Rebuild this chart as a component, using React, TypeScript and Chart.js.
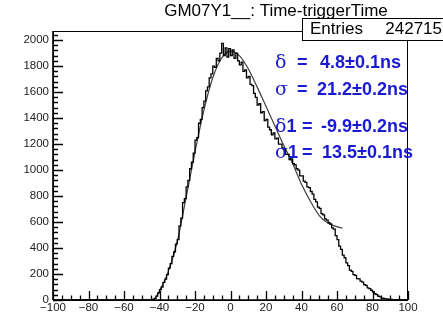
import React, { useEffect, useRef } from "react";
import { Chart, registerables } from "chart.js";

Chart.register(...registerables);

// ---- data ----
const titleText = "GM07Y1__: Time-triggerTime";
const entriesLabel = "Entries";
const entriesValue = "242715";

const xMin = -100;
const xMax = 100;
const yMax = 2070;
const binWidth = 1;
const firstBinLowEdge = -44;
// bin contents from -44 ns upward (1 ns bins)
const counts = [
  0, 4, 12, 30, 55, 80, 100, 135, 160, 195,
  245, 280, 335, 370, 430, 465, 570, 630, 750, 780,
  870, 920, 1010, 1060, 1130, 1230, 1250, 1360, 1390, 1480,
  1530, 1610, 1640, 1710, 1740, 1800, 1790, 1860, 1840, 1900,
  1975, 1880, 1940, 1870, 1935, 1880, 1925, 1860, 1900, 1840,
  1810, 1830, 1760, 1770, 1710, 1720, 1660, 1650, 1590, 1560,
  1500, 1510, 1440, 1450, 1380, 1390, 1330, 1310, 1270, 1285,
  1240, 1245, 1200, 1200, 1170, 1160, 1120, 1120, 1080, 1085,
  1050, 1040, 1010, 1000, 955, 955, 915, 905, 870, 865,
  835, 815, 775, 755, 715, 705, 665, 655, 625, 615,
  595, 585, 555, 545, 495, 465, 415, 390, 345, 325,
  285, 265, 230, 220, 195, 190, 165, 163, 145, 138,
  118, 112, 93, 88, 75, 62, 48, 42, 29, 24,
  14, 13, 9, 8, 5, 5, 3, 3, 2, 1,
];

const fitX = [-43, -40, -35, -30, -25, -20, -15, -10, -5, 0, 5, 10, 15, 20, 25, 30, 35, 40, 45, 50, 55, 60, 63];
const fitY = [0, 70, 220, 450, 790, 1140, 1460, 1710, 1860, 1915, 1880, 1780, 1640, 1490, 1340, 1190, 1050, 890, 760, 650, 590, 565, 553];

const yMajorTicks = [0, 200, 400, 600, 800, 1000, 1200, 1400, 1600, 1800, 2000];
const yMinorStep = 40;
const xMajorTicks = [-100, -80, -60, -40, -20, 0, 20, 40, 60, 80, 100];
const xMinorStep = 5;

const fitSymbols = ["δ", "σ", "δ1", "σ1"];
const fitValues = ["4.8±0.1ns", "21.2±0.2ns", "-9.9±0.2ns", "13.5±0.1ns"];

// ---- layout ----
const W = 443;
const H = 319;
const LEFT = 53;
const RIGHT = 408;
const TOP = 31;
const BOTTOM = 300;
const textLineY = [63, 90, 127, 153];
const valueX = [320, 317, 321, 322];

function buildHist() {
  const pts: { x: number; y: number }[] = [];
  for (let e = xMin; e < xMax; e += binWidth) {
    const idx = Math.round((e - firstBinLowEdge) / binWidth);
    const v = idx >= 0 && idx < counts.length ? counts[idx] : 0;
    pts.push({ x: e, y: v });
  }
  pts.push({ x: xMax, y: 0 });
  return pts;
}

const rootPlugin = {
  id: "rootDecor",
  afterDatasetsDraw(chart: any) {
    const ctx = chart.ctx as CanvasRenderingContext2D;
    const xs = chart.scales.x;
    const ys = chart.scales.y;
    const a = chart.chartArea;
    ctx.save();
    // frame
    ctx.strokeStyle = "#000";
    ctx.lineWidth = 1;
    ctx.strokeRect(a.left + 0.5, a.top + 0.5, a.right - a.left - 1, a.bottom - a.top);
    ctx.lineWidth = 1.6;
    ctx.beginPath();
    ctx.moveTo(a.left, a.bottom);
    ctx.lineTo(a.right, a.bottom);
    ctx.moveTo(a.left, a.bottom);
    ctx.lineTo(a.left, a.top);
    ctx.stroke();

    // y ticks
    ctx.lineWidth = 1.3;
    ctx.beginPath();
    for (let v = 0; v <= yMax; v += yMinorStep) {
      const py = Math.round(ys.getPixelForValue(v)) + 0.5;
      const major = v % 200 === 0;
      ctx.moveTo(a.left, py);
      ctx.lineTo(a.left + (major ? 10 : 5), py);
    }
    // x ticks
    for (let v = xMin; v <= xMax; v += xMinorStep) {
      const px = Math.round(xs.getPixelForValue(v)) + 0.5;
      const major = v % 20 === 0;
      ctx.moveTo(px, a.bottom);
      ctx.lineTo(px, a.bottom - (major ? 9 : 4.5));
    }
    ctx.stroke();

    // labels
    ctx.fillStyle = "#222";
    ctx.font = "11.5px 'Liberation Sans', Arial, sans-serif";
    ctx.textAlign = "right";
    ctx.textBaseline = "middle";
    yMajorTicks.forEach((v) => {
      ctx.fillText(String(v), a.left - 4, ys.getPixelForValue(v));
    });
    ctx.textAlign = "center";
    ctx.textBaseline = "top";
    xMajorTicks.forEach((v) => {
      const s = v < 0 ? "\u2212" + String(-v) : String(v);
      ctx.fillText(s, xs.getPixelForValue(v), a.bottom + 2);
    });

    // title
    ctx.fillStyle = "#000";
    ctx.font = "17px 'Liberation Sans', Arial, sans-serif";
    ctx.textAlign = "center";
    ctx.textBaseline = "middle";
    ctx.fillText(titleText, 276, 11);

    // stats box
    ctx.fillStyle = "#fff";
    ctx.fillRect(302, 18, 160, 22);
    ctx.strokeStyle = "#000";
    ctx.lineWidth = 1;
    ctx.strokeRect(302.5, 18.5, 160, 22);
    ctx.fillStyle = "#000";
    ctx.font = "17px 'Liberation Sans', Arial, sans-serif";
    ctx.textAlign = "left";
    ctx.fillText(entriesLabel, 310, 29);
    ctx.textAlign = "right";
    ctx.fillText(entriesValue, 442, 29);

    // fit parameters
    ctx.fillStyle = "#1a1ad2";
    ctx.textBaseline = "middle";
    fitSymbols.forEach((sym, i) => {
      const y = textLineY[i];
      ctx.textAlign = "left";
      ctx.font = "19px 'DejaVu Serif', 'Liberation Serif', serif";
      const g = sym.charAt(0);
      ctx.fillText(g, 275, y);
      const x = 275 + ctx.measureText(g).width;
      ctx.font = "bold 18px 'Liberation Sans', Arial, sans-serif";
      if (sym.length > 1) {
        ctx.fillText(sym.slice(1), x, y);
      }
      ctx.fillText("=", 297 + (sym.length > 1 ? 5 : 0), y);
      ctx.fillText(fitValues[i], valueX[i], y);
    });
    ctx.restore();
  },
};

export default function App() {
  const ref = useRef<HTMLCanvasElement | null>(null);
  useEffect(() => {
    if (!ref.current) return;
    const chart = new Chart(ref.current, {
      type: "line",
      data: {
        datasets: [
          {
            data: buildHist(),
            borderColor: "#000",
            borderWidth: 1.3,
            pointRadius: 0,
            stepped: "after",
            fill: false,
          },
          {
            data: fitX.map((x, i) => ({ x, y: fitY[i] })),
            borderColor: "#404040",
            borderWidth: 1.2,
            pointRadius: 0,
            cubicInterpolationMode: "monotone",
            fill: false,
          },
        ],
      },
      options: {
        animation: false,
        responsive: false,
        devicePixelRatio: 1,
        layout: { padding: { left: LEFT, right: W - RIGHT, top: TOP, bottom: H - BOTTOM } },
        plugins: { legend: { display: false }, tooltip: { enabled: false } },
        events: [],
        scales: {
          x: { type: "linear", min: xMin, max: xMax, display: false },
          y: { type: "linear", min: 0, max: yMax, display: false },
        },
      },
      plugins: [rootPlugin],
    });
    return () => chart.destroy();
  }, []);
  return (
    <div style={{ position: "absolute", left: 0, top: 0, width: W, height: H, background: "#fff" }}>
      <canvas ref={ref} width={W} height={H} style={{ display: "block" }} />
    </div>
  );
}
